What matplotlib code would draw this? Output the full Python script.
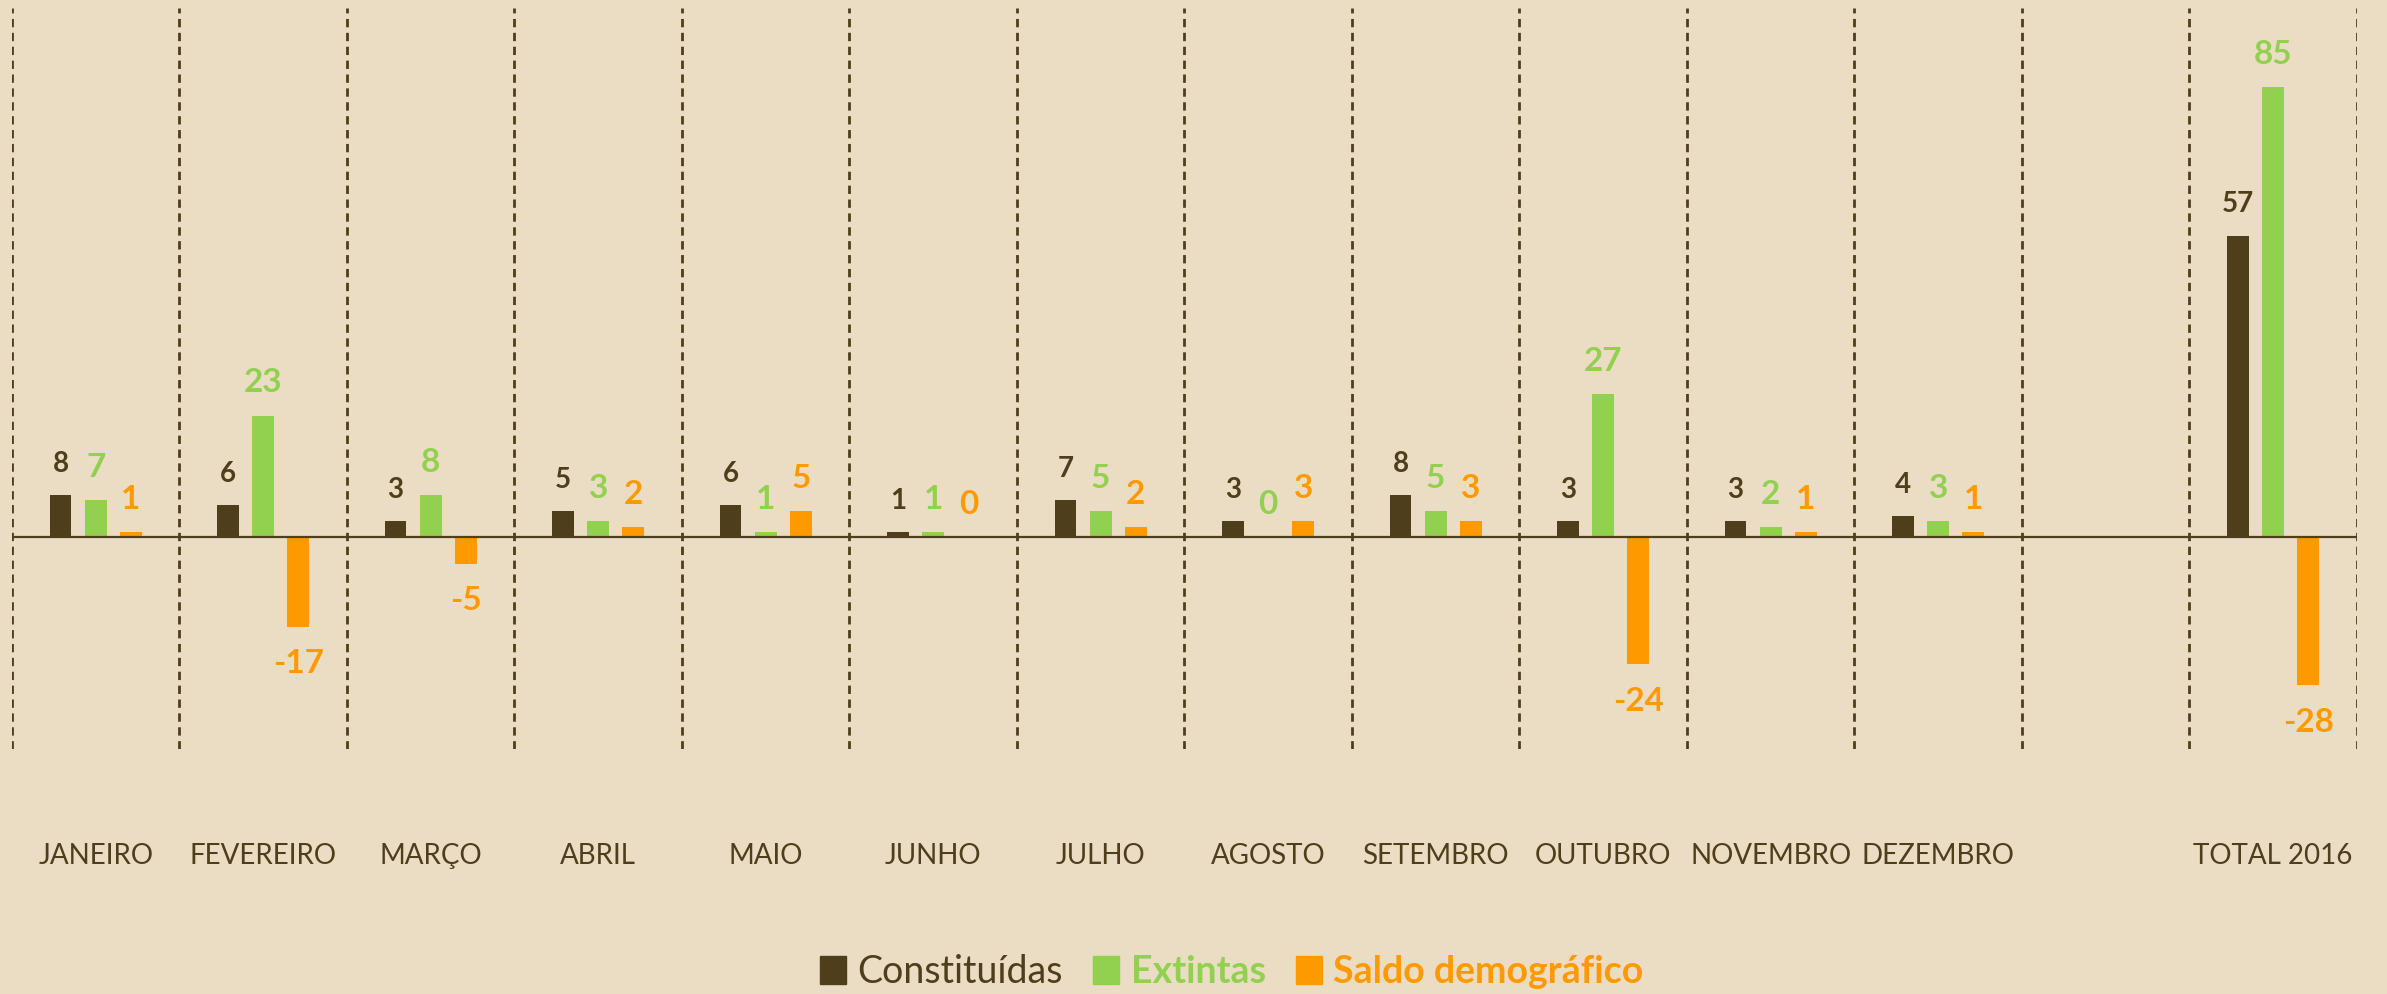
import numpy as np
import matplotlib
matplotlib.use("Agg")
from matplotlib import pyplot as plt
from matplotlib.patches import Patch

# dados (a categoria vazia separa os meses do total)
meses = ['JANEIRO', 'FEVEREIRO', 'MARÇO', 'ABRIL', 'MAIO', 'JUNHO', 'JULHO',
         'AGOSTO', 'SETEMBRO', 'OUTUBRO', 'NOVEMBRO', 'DEZEMBRO', '', 'TOTAL 2016']
constituidas = [8, 6, 3, 5, 6, 1, 7, 3, 8, 3, 3, 4, np.nan, 57]
extintas = [7, 23, 8, 3, 1, 1, 5, 0, 5, 27, 2, 3, np.nan, 85]
saldo = [1, -17, -5, 2, 5, 0, 2, 3, 3, -24, 1, 1, np.nan, -28]

fundo = '#EBDDC3'
castanho = '#4F3E1C'
verde = '#92D050'
laranja = '#FF9900'

plt.rcParams['font.family'] = ['Lato', 'DejaVu Sans']

fig = plt.figure(figsize=(23.87, 9.94), dpi=100, facecolor=fundo)
ax = fig.add_axes([0.005, 0.2465, 0.9824, 0.7455])
ax.set_facecolor(fundo)

x = np.arange(len(meses))
largura = 0.13
desloc = 0.21

series = [
    (constituidas, castanho, -desloc, 20),
    (extintas, verde, 0, 24),
    (saldo, laranja, desloc, 24),
]

for valores, cor, dx, tam in series:
    v = np.array(valores, dtype=float)
    ax.bar(x + dx, v, width=largura, color=cor, zorder=3)
    for xi, vi in zip(x, v):
        if np.isnan(vi):
            continue
        if vi >= 0:
            ax.annotate(f'{int(vi)}', (xi + dx, vi), xytext=(0, 13),
                        textcoords='offset points', ha='center', va='bottom',
                        fontsize=tam, fontweight='bold', color=cor)
        else:
            ax.annotate(f'{int(vi)}', (xi + dx, vi), xytext=(0, -16),
                        textcoords='offset points', ha='center', va='top',
                        fontsize=tam, fontweight='bold', color=cor)

# linhas tracejadas entre categorias
for b in np.arange(-0.5, len(meses) + 0.5, 1):
    ax.axvline(b, color=castanho, linestyle=(0, (3, 2)), linewidth=2, zorder=2)
ax.axhline(0, color=castanho, linewidth=1.6, zorder=4)

ax.set_xlim(-0.5, len(meses) - 0.5)
ax.set_ylim(-40, 100)
ax.set_yticks([])
ax.set_xticks(x)
ax.set_xticklabels(meses, fontsize=20, color=castanho)
ax.tick_params(axis='x', length=0, pad=68)
for s in ax.spines.values():
    s.set_visible(False)

handles = [Patch(color=castanho), Patch(color=verde), Patch(color=laranja)]
nomes = ['Constituídas', 'Extintas', 'Saldo demográfico']
leg = fig.legend(handles, nomes, loc='center', bbox_to_anchor=(0.516, 1 - 972 / 994),
                 ncol=3, frameon=False, fontsize=27, handlelength=0.7,
                 handleheight=0.8, handletextpad=0.3, columnspacing=0.8)
for txt, cor, peso in zip(leg.get_texts(), [castanho, verde, laranja],
                          ['normal', 'bold', 'bold']):
    txt.set_color(cor)
    txt.set_fontweight(peso)

fig.savefig('out.png', dpi=100, facecolor=fundo)
